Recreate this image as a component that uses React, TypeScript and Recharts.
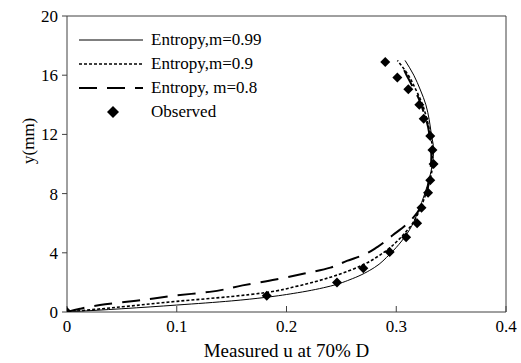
import React from 'react';
import {
  ComposedChart,
  Line,
  Scatter,
  XAxis,
  YAxis,
  ReferenceLine,
} from 'recharts';

// Entropy profiles: u (measured velocity), y (mm)
const entropy099 = [
  { u: 0, y: 0 }, { u: 0.05, y: 0.22 }, { u: 0.1, y: 0.47 }, { u: 0.15, y: 0.75 },
  { u: 0.18, y: 0.98 }, { u: 0.21, y: 1.3 }, { u: 0.24, y: 1.75 }, { u: 0.26, y: 2.25 },
  { u: 0.28, y: 3.0 }, { u: 0.294, y: 3.9 }, { u: 0.305, y: 4.8 }, { u: 0.314, y: 5.8 },
  { u: 0.32, y: 6.8 }, { u: 0.326, y: 8 }, { u: 0.33, y: 9 }, { u: 0.333, y: 10 },
  { u: 0.334, y: 11 }, { u: 0.332, y: 12 }, { u: 0.33, y: 13 }, { u: 0.327, y: 14 },
  { u: 0.322, y: 15 }, { u: 0.316, y: 16 }, { u: 0.308, y: 17 },
];

const entropy09 = [
  { u: 0, y: 0 }, { u: 0.05, y: 0.35 }, { u: 0.1, y: 0.72 }, { u: 0.15, y: 1.05 },
  { u: 0.18, y: 1.3 }, { u: 0.21, y: 1.75 }, { u: 0.24, y: 2.35 }, { u: 0.27, y: 3.2 },
  { u: 0.29, y: 4.1 }, { u: 0.305, y: 5.1 }, { u: 0.315, y: 6.0 }, { u: 0.322, y: 7 },
  { u: 0.327, y: 8 }, { u: 0.331, y: 9 }, { u: 0.333, y: 10 }, { u: 0.333, y: 11 },
  { u: 0.331, y: 12 }, { u: 0.328, y: 13 }, { u: 0.324, y: 14 }, { u: 0.318, y: 15 },
  { u: 0.311, y: 16 }, { u: 0.301, y: 17 },
];

const entropy08 = [
  { u: 0, y: 0 }, { u: 0.012, y: 0.22 }, { u: 0.03, y: 0.47 }, { u: 0.063, y: 0.76 },
  { u: 0.1, y: 1.12 }, { u: 0.13, y: 1.36 }, { u: 0.16, y: 1.8 }, { u: 0.19, y: 2.2 },
  { u: 0.21, y: 2.5 }, { u: 0.24, y: 3.0 }, { u: 0.255, y: 3.45 }, { u: 0.27, y: 3.85 },
  { u: 0.283, y: 4.4 }, { u: 0.297, y: 5.2 }, { u: 0.309, y: 5.9 }, { u: 0.319, y: 6.7 },
  { u: 0.325, y: 7.5 }, { u: 0.329, y: 8.5 }, { u: 0.331, y: 9.5 }, { u: 0.332, y: 10.5 },
  { u: 0.331, y: 11.5 }, { u: 0.329, y: 12.5 }, { u: 0.325, y: 13.5 }, { u: 0.32, y: 14.5 },
  { u: 0.313, y: 15.5 }, { u: 0.307, y: 16.4 }, { u: 0.305, y: 17 },
];

const observed = [
  { u: 0, y: 0 }, { u: 0.182, y: 1.1 }, { u: 0.246, y: 2.0 }, { u: 0.27, y: 2.95 },
  { u: 0.294, y: 4.05 }, { u: 0.309, y: 5.05 }, { u: 0.319, y: 6.0 }, { u: 0.323, y: 7.05 },
  { u: 0.329, y: 8.05 }, { u: 0.331, y: 8.9 }, { u: 0.334, y: 10.0 }, { u: 0.333, y: 10.95 },
  { u: 0.331, y: 11.9 }, { u: 0.325, y: 13.05 }, { u: 0.321, y: 14.0 }, { u: 0.311, y: 15.05 },
  { u: 0.301, y: 15.85 }, { u: 0.29, y: 16.9 },
];

const xTicks = [0, 0.1, 0.2, 0.3, 0.4];
const yTicks = [0, 4, 8, 12, 16, 20];

const FONT = '"Liberation Serif", "Times New Roman", serif';
const AXIS = '#404040';

const Diamond = (props: any) => {
  const { cx, cy } = props;
  if (cx == null || cy == null) return null;
  const r = 5;
  return (
    <polygon
      points={`${cx},${cy - r} ${cx + r},${cy} ${cx},${cy + r} ${cx - r},${cy}`}
      fill="#000"
    />
  );
};

const legendItems = [
  { label: 'Entropy,m=0.99', dash: undefined, width: 1 },
  { label: 'Entropy,m=0.9', dash: '3 2', width: 1.6 },
  { label: 'Entropy, m=0.8', dash: '18 10', width: 2 },
  { label: 'Observed', dash: 'marker', width: 0 },
];

const LegendBox = () => (
  <div style={{ position: 'absolute', left: 79, top: 28, fontFamily: FONT, fontSize: 17, color: '#000', lineHeight: '24px' }}>
    {legendItems.map((it) => (
      <div key={it.label} style={{ display: 'flex', alignItems: 'center', height: 24 }}>
        <svg width={72} height={16} style={{ display: 'block' }}>
          {it.dash === 'marker' ? (
            <polygon points="34,2 40,8 34,14 28,8" fill="#000" />
          ) : (
            <line x1={0} y1={8} x2={64} y2={8} stroke="#000" strokeWidth={it.width} strokeDasharray={it.dash} />
          )}
        </svg>
        <span>{it.label}</span>
      </div>
    ))}
  </div>
);

export default function App() {
  return (
    <div style={{ position: 'absolute', left: 0, top: 0, width: 521, height: 363, background: '#fff' }}>
      <ComposedChart
        width={521}
        height={363}
        margin={{ top: 16, right: 15, bottom: 0, left: 0 }}
      >
        <XAxis
          type="number"
          dataKey="u"
          domain={[0, 0.4]}
          ticks={xTicks}
          height={51}
          allowDataOverflow
          axisLine={{ stroke: AXIS }}
          tickLine={{ stroke: AXIS }}
          tickSize={-6}
          tickMargin={14}
          tick={{ fill: '#000', fontSize: 17, fontFamily: FONT }}
          label={{ value: 'Measured u at 70% D', position: 'insideBottom', offset: 6, fill: '#000', fontSize: 19, fontFamily: FONT }}
        />
        <YAxis
          type="number"
          dataKey="y"
          domain={[0, 20]}
          ticks={yTicks}
          width={67}
          allowDataOverflow
          axisLine={{ stroke: AXIS }}
          tickLine={{ stroke: AXIS }}
          tickSize={5}
          tickMargin={4}
          tick={{ fill: '#000', fontSize: 17, fontFamily: FONT }}
          label={{ value: 'y(mm)', angle: -90, position: 'insideLeft', offset: 28, fill: '#000', fontSize: 17, fontFamily: FONT }}
        />
        <ReferenceLine y={20} stroke={AXIS} />
        <ReferenceLine x={0.4} stroke={AXIS} />
        <Line
          data={entropy099}
          dataKey="y"
          type="monotoneY"
          stroke="#000"
          strokeWidth={1}
          dot={false}
          isAnimationActive={false}
          name="Entropy,m=0.99"
        />
        <Line
          data={entropy09}
          dataKey="y"
          type="monotoneY"
          stroke="#000"
          strokeWidth={1.6}
          strokeDasharray="3 2"
          dot={false}
          isAnimationActive={false}
          name="Entropy,m=0.9"
        />
        <Line
          data={entropy08}
          dataKey="y"
          type="monotoneY"
          stroke="#000"
          strokeWidth={2}
          strokeDasharray="18 10"
          dot={false}
          isAnimationActive={false}
          name="Entropy, m=0.8"
        />
        <Scatter
          data={observed}
          dataKey="y"
          shape={Diamond}
          isAnimationActive={false}
          name="Observed"
        />
      </ComposedChart>
      <LegendBox />
    </div>
  );
}
